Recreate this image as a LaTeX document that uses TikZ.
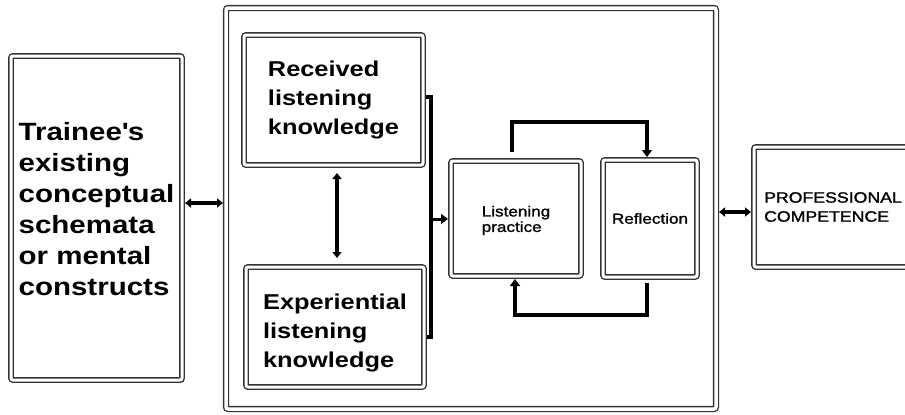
\documentclass[tikz,border=0pt]{standalone}
\usepackage{fontspec}
\setmainfont{Liberation Sans}[FakeStretch=1.18]
\newfontfamily\semifont{Liberation Sans}[FakeStretch=1.18,FakeBold=1.4]
\usetikzlibrary{arrows.meta,positioning,calc}
\tikzset{
  box/.style={draw=black!80,double=white,double distance=3pt,line width=1.4pt,rounded corners=2pt,fill=white,align=left,inner sep=2pt,outer sep=3pt},
  frm/.style={draw=black!80,double=white,double distance=3.5pt,line width=1.3pt,rounded corners=2pt,outer sep=3pt},
  arr/.style={arrows={-Triangle[length=7pt,width=10pt]},line width=3.5pt,draw=black},
  biarr/.style={arrows={Triangle[length=6pt,width=9pt]-Triangle[length=6pt,width=9pt]},line width=3.4pt,draw=black},
}

\begin{document}
\begin{tikzpicture}[x=1pt,y=-1pt,
  big/.style={font=\fontsize{25}{31}\selectfont\bfseries},
  mid/.style={font=\fontsize{21.5}{29}\selectfont\bfseries},
  sml/.style={font=\fontsize{14.5}{15.5}\selectfont\semifont}]
  \useasboundingbox (0,0) rectangle (905,415);
  % middle frame and the boxes
  \node[frm,minimum width=490pt,minimum height=401pt] (frame) at (471,208.5) {};
  \node[box,big,minimum width=171pt,minimum height=324pt] (trainee) at (96.5,218) {Trainee\textquotesingle s\\existing\\conceptual\\schemata\\or mental\\constructs\\[-22pt]\strut};
  \node[box,mid,minimum width=179pt,minimum height=130pt] (rec) at (333.5,100) {Received\\listening\\knowledge};
  \node[box,mid,minimum width=178pt,minimum height=120pt] (exp) at (335,327) {\strut\\[-21pt]Experiential\\listening\\knowledge};
  \node[box,sml,minimum width=130pt,minimum height=115pt] (lp) at (516,218.5) {\strut\\[-12pt]Listening\\practice};
  \node[box,sml,minimum width=94pt,minimum height=117pt] (refl) at (650,218.5) {Reflection};
  \node[box,font=\fontsize{15}{19}\selectfont\semifont,minimum width=158pt,minimum height=120pt] (prof) at (833,207) {PROFESSIONAL\\COMPETENCE};
  % connectors
  \coordinate (tA) at ($(trainee.east)+(0,-15)$);
  \draw[biarr] (tA) -- (tA -| frame.west);
  \coordinate (pA) at ($(prof.west)+(0,5)$);
  \draw[biarr] (pA -| frame.east) -- (pA);
  \coordinate (vA) at ($(rec.south)+(3.5,0)$);
  \draw[biarr,shorten <=5pt,shorten >=6pt] (vA) -- (vA |- exp.north);
  \coordinate (brk) at (431,219);
  \draw[line width=3.5pt] ($(rec.east)+(0,-3)$) -| (brk) |- ($(exp.east)+(0,10)$);
  \draw[arr,line width=3pt] (brk) -- (brk -| lp.west);
  % feedback loop
  \coordinate (loopT) at (580,122);
  \coordinate (loopB) at (580,315);
  \draw[arr,line width=4pt,shorten <=6pt] ($(lp.north)+(-4,0)$) |- (loopT) -| ($(refl.north)+(-3,0)$);
  \draw[arr,line width=4pt,shorten <=3pt] ($(refl.south)+(-3,0)$) |- (loopB) -| ($(lp.south)+(-1,0)$);
\end{tikzpicture}
\end{document}
